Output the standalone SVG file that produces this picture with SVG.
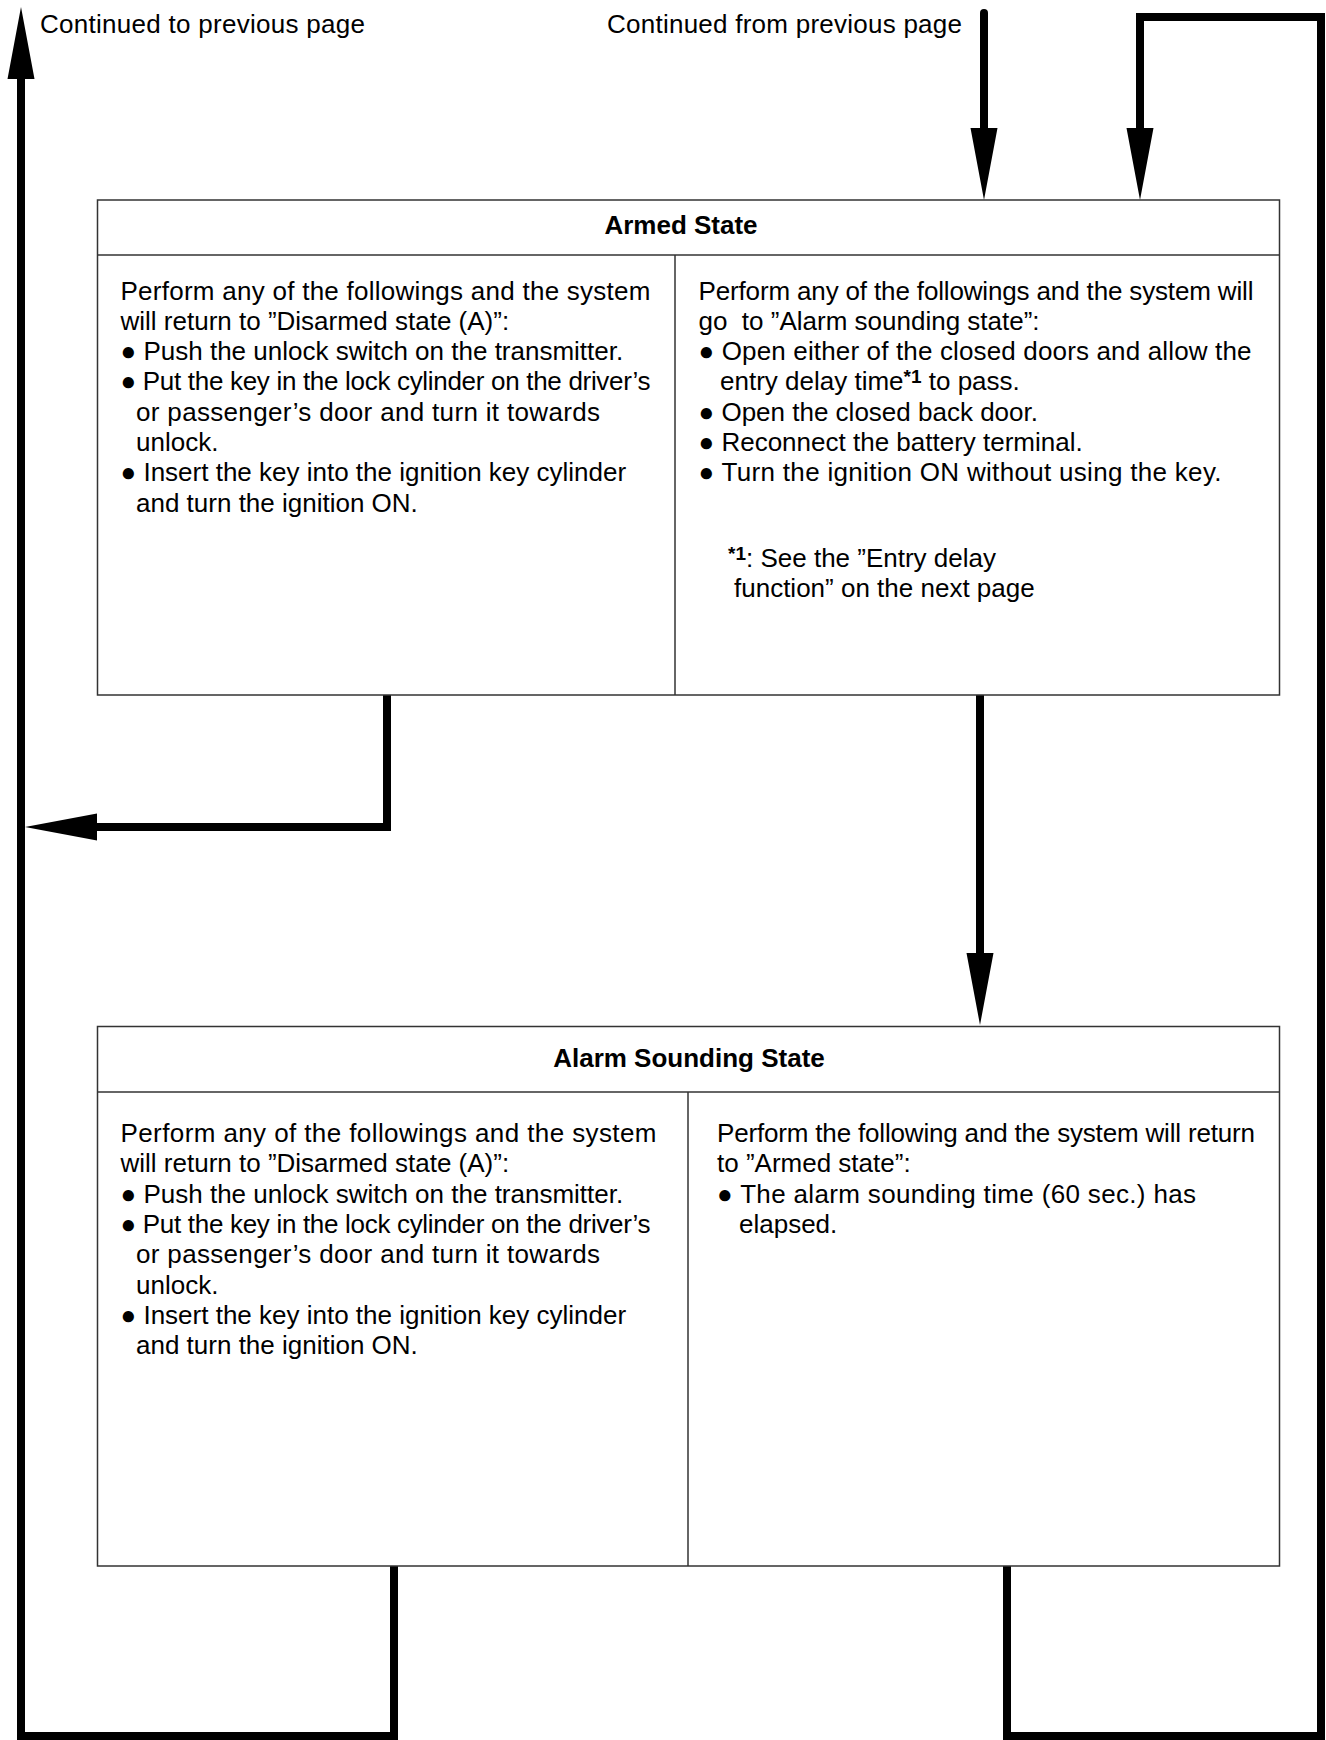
<svg xmlns="http://www.w3.org/2000/svg" width="1326" height="1740" viewBox="0 0 1326 1740">
<style>
.t{font-family:"Liberation Sans",Arial,Helvetica,sans-serif;font-size:26px;fill:#000}
.h{font-weight:bold;text-anchor:middle}
.sup{font-weight:bold;font-size:19px}
.box{fill:#fff;stroke:#333;stroke-width:1.5}
.dv{stroke:#333;stroke-width:1.5;fill:none}
.c{fill:none;stroke:#000;stroke-width:8;stroke-linecap:round;stroke-linejoin:miter}
</style>
<defs>
<marker id="ah" markerUnits="userSpaceOnUse" markerWidth="74" markerHeight="28" refX="0" refY="13.5" orient="auto" overflow="visible">
<path d="M0,0 L72,13.5 L0,27 Z" fill="#000"/>
</marker>
</defs>
<rect width="1326" height="1740" fill="#fff"/>

<g id="connectors">
<path id="c-to-prev" class="c" d="M394,1566 V1736 H21 V79" marker-end="url(#ah)"/>
<path id="c-armed-disarm" class="c" d="M387,695 V827 H97" marker-end="url(#ah)"/>
<path id="c-armed-alarm" class="c" d="M980,695 V953" marker-end="url(#ah)"/>
<path id="c-from-prev" class="c" d="M984,13 V128" marker-end="url(#ah)"/>
<path id="c-alarm-armed" class="c" d="M1007,1566 V1736 H1321 V17 H1140 V128" marker-end="url(#ah)"/>
</g>

<g id="label-to-prev">
<text class="t" x="40" y="33" textLength="325" lengthAdjust="spacing">Continued to previous page</text>
</g>
<g id="label-from-prev">
<text class="t" x="607" y="33" textLength="355" lengthAdjust="spacing">Continued from previous page</text>
</g>

<g id="armed-state">
<rect class="box" x="97.5" y="200" width="1182" height="495"/>
<line class="dv" x1="97.5" y1="255" x2="1279.5" y2="255"/>
<line class="dv" x1="675" y1="255" x2="675" y2="695"/>
<text class="t h" x="681" y="233.5">Armed State</text>
<text class="t" x="120.5" y="299.5" textLength="530" lengthAdjust="spacing">Perform any of the followings and the system</text>
<text class="t" x="120.5" y="329.8">will return to ”Disarmed state (A)”:</text>
<text class="t" x="120.5" y="360">● Push the unlock switch on the transmitter.</text>
<text class="t" x="120.5" y="390.4" textLength="530" lengthAdjust="spacing">● Put the key in the lock cylinder on the driver’s</text>
<text class="t" x="136" y="420.7" textLength="464" lengthAdjust="spacing">or passenger’s door and turn it towards</text>
<text class="t" x="136" y="451">unlock.</text>
<text class="t" x="120.5" y="481.3">● Insert the key into the ignition key cylinder</text>
<text class="t" x="136" y="511.6">and turn the ignition ON.</text>
<text class="t" x="698.5" y="299.5" textLength="555" lengthAdjust="spacing">Perform any of the followings and the system will</text>
<text class="t" x="698.5" y="329.8" style="white-space:pre">go  to ”Alarm sounding state”:</text>
<text class="t" x="698.5" y="360" textLength="553" lengthAdjust="spacing">● Open either of the closed doors and allow the</text>
<text class="t" x="720" y="390.4">entry delay time<tspan class="sup" dy="-7">*1</tspan><tspan dy="7"> to pass.</tspan></text>
<text class="t" x="698.5" y="420.7">● Open the closed back door.</text>
<text class="t" x="698.5" y="451">● Reconnect the battery terminal.</text>
<text class="t" x="698.5" y="481.3" textLength="523" lengthAdjust="spacing">● Turn the ignition ON without using the key.</text>
<text class="t" x="728" y="567"><tspan class="sup" dy="-7">*1</tspan><tspan dy="7">: See the ”Entry delay</tspan></text>
<text class="t" x="734" y="597">function” on the next page</text>
</g>

<g id="alarm-sounding-state">
<rect class="box" x="97.5" y="1026.5" width="1182" height="539.5"/>
<line class="dv" x1="97.5" y1="1092" x2="1279.5" y2="1092"/>
<line class="dv" x1="688" y1="1092" x2="688" y2="1566"/>
<text class="t h" x="689" y="1067">Alarm Sounding State</text>
<text class="t" x="120.5" y="1142" textLength="536" lengthAdjust="spacing">Perform any of the followings and the system</text>
<text class="t" x="120.5" y="1172.3">will return to ”Disarmed state (A)”:</text>
<text class="t" x="120.5" y="1202.6">● Push the unlock switch on the transmitter.</text>
<text class="t" x="120.5" y="1232.9" textLength="530" lengthAdjust="spacing">● Put the key in the lock cylinder on the driver’s</text>
<text class="t" x="136" y="1263.2" textLength="464" lengthAdjust="spacing">or passenger’s door and turn it towards</text>
<text class="t" x="136" y="1293.5">unlock.</text>
<text class="t" x="120.5" y="1323.8">● Insert the key into the ignition key cylinder</text>
<text class="t" x="136" y="1354.1">and turn the ignition ON.</text>
<text class="t" x="717" y="1142" textLength="538" lengthAdjust="spacing">Perform the following and the system will return</text>
<text class="t" x="717" y="1172.3">to ”Armed state”:</text>
<text class="t" x="717" y="1202.6" textLength="479" lengthAdjust="spacing">● The alarm sounding time (60 sec.) has</text>
<text class="t" x="739" y="1232.9">elapsed.</text>
</g>
</svg>
